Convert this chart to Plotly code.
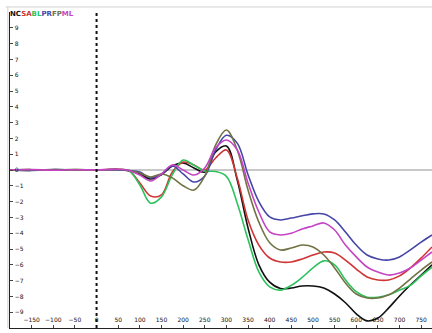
import plotly.graph_objects as go

time_ms = [-200, -150, -100, -50, 0, 50, 75, 100, 125, 150, 175, 200, 225, 250, 275, 300,
           325, 350, 375, 400, 425, 450, 475, 500, 525, 550, 575, 600, 625, 650, 675, 700,
           725, 750, 775]

series_names = ["NC", "SA", "BL", "PR", "FP", "ML"]
series_colors = ["#111111", "#d03434", "#2ec25e", "#4646a8", "#727244", "#c444c4"]

black_vals = [0, -0.02, 0.03, 0, 0, 0.02, -0.05, -0.25, -0.57, -0.3, 0.25, 0.44, 0.13, -0.13,
              1.14, 1.52, -0.63, -3.67, -6.0, -7.1, -7.5, -7.47, -7.34, -7.34, -7.47, -7.85,
              -8.4, -9.1, -9.55, -9.37, -8.73, -7.97, -7.28, -6.65, -6.0]
red_vals = [0, 0.02, -0.02, 0.03, 0, 0.05, -0.05, -0.82, -1.65, -1.58, -0.13, 0.5, 0.32, 0,
            0.76, 1.27, -0.5, -3.16, -4.75, -5.57, -5.82, -5.82, -5.63, -5.38, -5.19, -5.25,
            -5.7, -6.27, -6.77, -6.96, -6.96, -6.7, -6.2, -5.57, -4.87]
green_vals = [0, 0.02, -0.02, 0.03, 0, 0.02, -0.05, -0.95, -2.1, -1.7, -0.3, 0.63, 0.3, -0.06,
              -0.1, -0.4, -2.1, -4.4, -6.45, -7.4, -7.6, -7.3, -6.8, -6.2, -5.75, -6.0,
              -6.95, -7.7, -8.05, -8.05, -7.9, -7.6, -7.3, -6.7, -6.15]
blue_vals = [0, -0.03, 0.02, 0, 0, 0.02, -0.03, -0.13, -0.5, -0.25, 0.25, -0.25, -0.76, -0.38,
             1.27, 2.2, 1.7, -0.3, -2.0, -2.97, -3.16, -3.04, -2.9, -2.78, -2.78, -3.16,
             -3.92, -4.75, -5.38, -5.63, -5.7, -5.5, -5.06, -4.56, -4.11]
olive_vals = [0, 0.02, 0, -0.02, 0, 0.03, -0.03, -0.19, -0.44, -0.25, -0.5, -1.0, -1.27, -0.38,
              1.58, 2.53, 1.27, -1.27, -3.3, -4.6, -5.06, -4.94, -4.75, -4.87, -5.38, -6.2,
              -7.15, -7.85, -8.1, -8.1, -7.9, -7.47, -6.9, -6.33, -5.82]
magenta_vals = [0, 0.03, -0.02, 0.02, 0, 0.04, -0.03, -0.32, -0.7, -0.25, 0.32, 0, -0.32, 0.13,
                1.4, 1.9, 1.27, -0.82, -2.66, -3.92, -4.11, -4.0, -3.73, -3.54, -3.35, -3.8,
                -4.75, -5.5, -6.14, -6.46, -6.65, -6.52, -6.2, -5.7, -5.19]

x_ticks = [-150, -100, -50, 0, 50, 100, 150, 200, 250, 300, 350, 400, 450, 500, 550, 600,
           650, 700, 750]
y_ticks = list(range(-9, 11))

all_vals = [black_vals, red_vals, green_vals, blue_vals, olive_vals, magenta_vals]

fig = go.Figure()
for name, color, vals in zip(series_names, series_colors, all_vals):
    fig.add_trace(go.Scatter(x=time_ms, y=vals, mode="lines", name=name,
                             line=dict(color=color, width=1.6, shape="spline", smoothing=1.0)))

# zero line and stimulus onset marker
fig.add_hline(y=0, line=dict(color="#c8c8c8", width=2), layer="below")
fig.add_vline(x=0, line=dict(color="#111111", width=2, dash="dot"))
# frame hints (light gray top and left borders)
fig.add_shape(type="line", xref="paper", yref="paper", x0=-0.01, x1=1, y0=1.016, y1=1.016,
              line=dict(color="#d0d0d0", width=1))
fig.add_shape(type="line", xref="paper", yref="paper", x0=-0.005, x1=-0.005, y0=0, y1=1.016,
              line=dict(color="#d0d0d0", width=1))

legend_text = "".join(
    f"<span style='color:{c}'>{n}</span>" for n, c in zip(series_names, series_colors))
fig.add_annotation(text="<b>" + legend_text + "</b>", xref="paper", yref="paper",
                   x=-0.004, y=1.014, xanchor="left", yanchor="top", showarrow=False,
                   font=dict(size=7, family="DejaVu Sans"))

fig.update_layout(
    width=432, height=333,
    margin=dict(l=10, r=0, t=12, b=5),
    paper_bgcolor="white", plot_bgcolor="white",
    showlegend=False,
    font=dict(family="DejaVu Sans", size=6, color="#111111"),
)
fig.update_xaxes(range=[-200, 775], tickvals=x_ticks, ticks="inside", ticklen=3,
                 ticklabelposition="inside", showgrid=False, zeroline=False,
                 showline=True, linecolor="#222222", linewidth=1,
                 tickfont=dict(size=6, color="#111111"))
fig.update_yaxes(range=[-10, 10], tickvals=y_ticks, ticks="inside", ticklen=3,
                 ticklabelposition="inside", showgrid=False, zeroline=False,
                 showline=True, linecolor="#222222", linewidth=1,
                 tickfont=dict(size=6, color="#111111"))

fig.write_html("out.html", config={"displayModeBar": False},
               post_script="document.body.style.margin='0px';document.body.style.overflow='hidden';")
